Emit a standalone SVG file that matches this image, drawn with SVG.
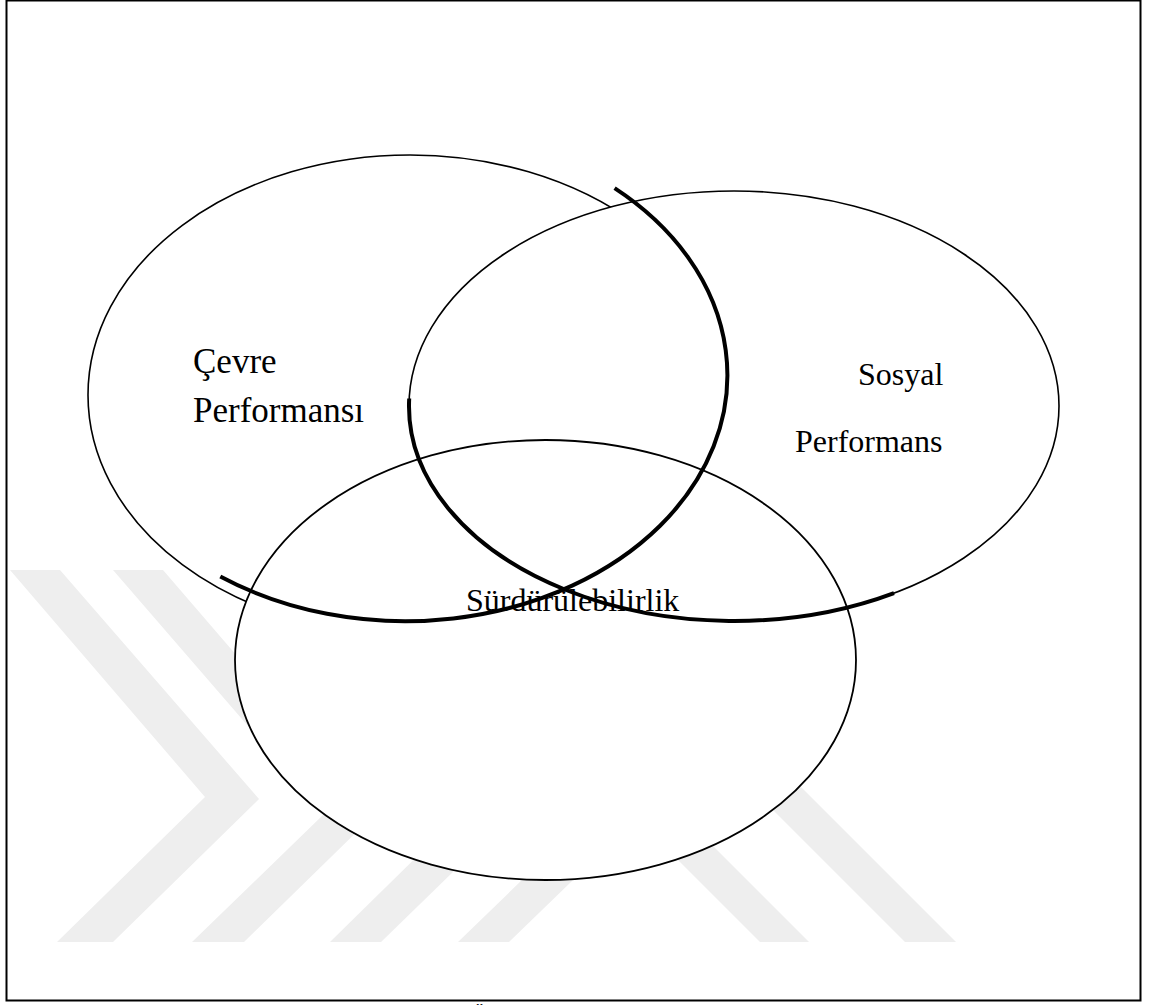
<svg xmlns="http://www.w3.org/2000/svg" width="1150" height="1005" viewBox="0 0 1150 1005">
<style>
.wm{fill:#eeeeee;stroke:none}
.thin{fill:#ffffff;stroke:#000;stroke-width:1.6}
.thick{fill:none;stroke:#000;stroke-width:4}
.lbl{font-family:"Liberation Serif","Times New Roman",serif;font-size:32px;fill:#000}
.big{font-size:35px}
</style>
<rect x="0" y="0" width="1150" height="1005" fill="#ffffff"/>
<g id="watermark">
<polygon class="wm" points="10,570 60,570 259,799 113,942 57,942 205,797"/>
<polygon class="wm" points="113,570 163,570 374,815 244,942 192,942 324,814"/>
<polygon class="wm" points="259,620 309,620 493,833 381,942 330,942 442,832"/>
<polygon class="wm" points="458,942 509,942 697,760 646,760"/>
<polygon class="wm" points="760,942 809,942 629,762 580,762"/>
<polygon class="wm" points="905,942 956,942 756,742 705,742"/>
</g>
<rect x="6.5" y="0.5" width="1134" height="1000" fill="none" stroke="#000" stroke-width="2"/>
<g id="cevre">
<ellipse class="thin" cx="410" cy="395" rx="322" ry="240"/>
</g>
<g id="sosyal">
<ellipse class="thin" cx="734" cy="406" rx="325" ry="215"/>
</g>
<g id="surdurulebilirlik">
<ellipse class="thin" cx="545.5" cy="660" rx="310.5" ry="220" style="stroke-width:1.8"/>
</g>
<g id="connectors">
<path class="thick" d="M 614.6 188.2 A 322 246 0 0 1 220.3 576.5"/>
<path class="thick" d="M 409.2 398.5 A 325 215 0 0 0 894 593.1"/>
</g>
<g id="labels">
<text class="lbl big" x="193" y="373">Çevre</text>
<text class="lbl big" x="193" y="422">Performansı</text>
<text class="lbl" x="858" y="385">Sosyal</text>
<text class="lbl" x="795" y="452">Performans</text>
<text class="lbl" x="466" y="611">Sürdürülebilirlik</text>
<text class="lbl" x="472" y="1021" style="font-size:21px">Ü</text>
</g>
</svg>
